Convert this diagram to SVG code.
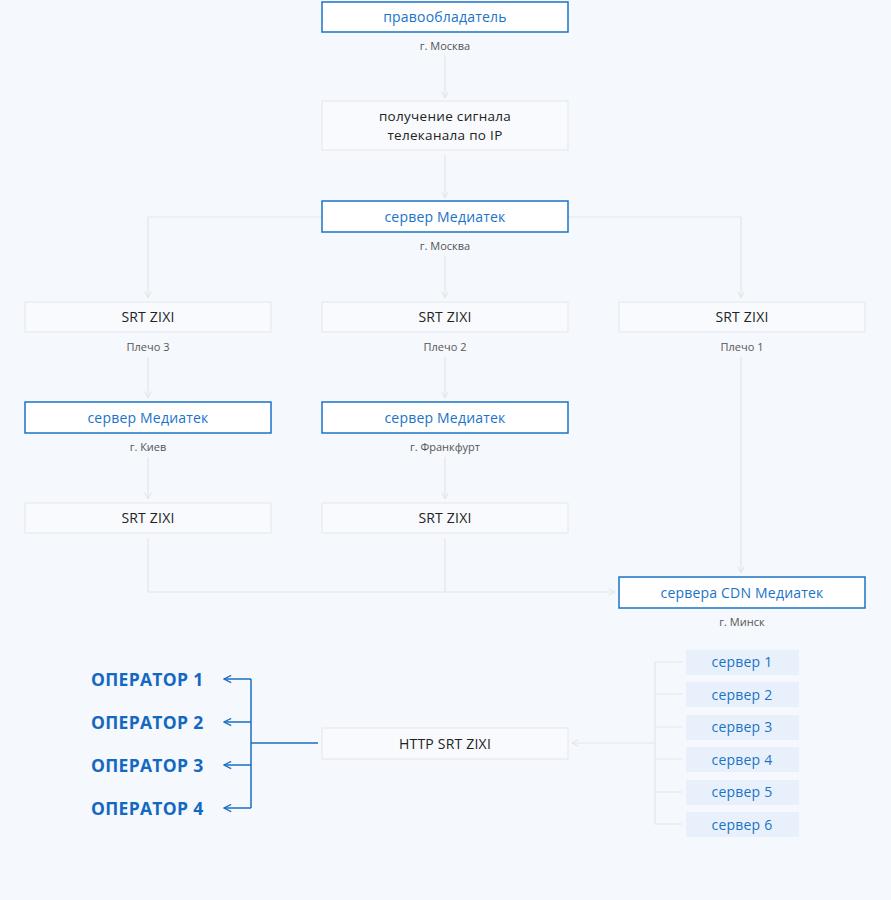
<svg xmlns="http://www.w3.org/2000/svg" width="891" height="900" viewBox="0 0 891 900">
<style>
text{font-family:"Open Sans","Noto Sans","Liberation Sans",sans-serif;text-anchor:middle}
.bx{fill:#f8fafd;stroke:#e4e7ec;stroke-width:1}
.bb{fill:#ffffff;stroke:#1a73c8;stroke-width:1.5}
.tb{fill:#1a73c8;font-size:14px;letter-spacing:0.2px}
.tk{fill:#222;font-size:14px;letter-spacing:0.2px}
.tk2{fill:#222;font-size:13.5px;letter-spacing:0.3px}
.sub{fill:#555;font-size:11px}
.ln{fill:none;stroke:#e4e6ea;stroke-width:1.2}
.bl{fill:none;stroke:#1a6fc4;stroke-width:1.5}
.op{fill:#1468c2;font-size:17.5px;font-weight:bold;letter-spacing:0.3px;text-anchor:start}
.sv{fill:#e8f1fb}
</style>
<defs>
<marker id="ag" viewBox="0 0 10 10" refX="9" refY="5" markerWidth="8" markerHeight="8" markerUnits="userSpaceOnUse" orient="auto"><path d="M1,1 L9,5 L1,9" fill="none" stroke="#dfe2e6" stroke-width="1.2"/></marker>
<marker id="ab" viewBox="0 0 10 10" refX="9" refY="5" markerWidth="9" markerHeight="9" markerUnits="userSpaceOnUse" orient="auto"><path d="M1,1 L9,5 L1,9" fill="none" stroke="#1a6fc4" stroke-width="1.4"/></marker>
</defs>
<rect width="891" height="900" fill="#f5f8fc"/>
<g id="connectors">
<line class="ln" x1="445" y1="55" x2="445" y2="98" marker-end="url(#ag)"/>
<line class="ln" x1="445" y1="155" x2="445" y2="198" marker-end="url(#ag)"/>
<path class="ln" d="M322,217 H148 V298" marker-end="url(#ag)"/>
<path class="ln" d="M568,217 H741 V298" marker-end="url(#ag)"/>
<line class="ln" x1="445" y1="256" x2="445" y2="298" marker-end="url(#ag)"/>
<line class="ln" x1="148" y1="357" x2="148" y2="398" marker-end="url(#ag)"/>
<line class="ln" x1="445" y1="357" x2="445" y2="398" marker-end="url(#ag)"/>
<line class="ln" x1="148" y1="457" x2="148" y2="499" marker-end="url(#ag)"/>
<line class="ln" x1="445" y1="457" x2="445" y2="499" marker-end="url(#ag)"/>
<path class="ln" d="M148,538 V592 H615" marker-end="url(#ag)"/>
<line class="ln" x1="445" y1="538" x2="445" y2="592"/>
<line class="ln" x1="741" y1="357" x2="741" y2="573" marker-end="url(#ag)"/>
<line class="ln" x1="655" y1="743" x2="572" y2="743" marker-end="url(#ag)"/>
<path class="ln" d="M682,662 H655 V824 H682 M655,694 H682 M655,727 H682 M655,759 H682 M655,792 H682"/>
<line class="bl" x1="318" y1="743" x2="251" y2="743"/>
<line class="bl" x1="251" y1="679" x2="251" y2="808"/>
<line class="bl" x1="251" y1="679" x2="224" y2="679" marker-end="url(#ab)"/>
<line class="bl" x1="251" y1="722" x2="224" y2="722" marker-end="url(#ab)"/>
<line class="bl" x1="251" y1="765" x2="224" y2="765" marker-end="url(#ab)"/>
<line class="bl" x1="251" y1="808" x2="224" y2="808" marker-end="url(#ab)"/>
</g>
<g id="n-pravo"><rect class="bb" x="322" y="2" width="246" height="30"/><text class="tb" x="445" y="22">правообладатель</text><text class="sub" x="445" y="50">г. Москва</text></g>
<g id="n-signal"><rect class="bx" x="322" y="101" width="246" height="49"/><text class="tk2" x="445" y="121"><tspan x="445">получение сигнала</tspan><tspan x="445" dy="18.5">телеканала по IP</tspan></text></g>
<g id="n-server-msk"><rect class="bb" x="322" y="201" width="246" height="31"/><text class="tb" x="445" y="221.5">сервер Медиатек</text><text class="sub" x="445" y="250">г. Москва</text></g>
<g id="n-srt3"><rect class="bx" x="25" y="302" width="246" height="30"/><text class="tk" x="148" y="322">SRT ZIXI</text><text class="sub" x="148" y="351">Плечо 3</text></g>
<g id="n-srt2"><rect class="bx" x="322" y="302" width="246" height="30"/><text class="tk" x="445" y="322">SRT ZIXI</text><text class="sub" x="445" y="351">Плечо 2</text></g>
<g id="n-srt1"><rect class="bx" x="619" y="302" width="246" height="30"/><text class="tk" x="742" y="322">SRT ZIXI</text><text class="sub" x="742" y="351">Плечо 1</text></g>
<g id="n-server-kiev"><rect class="bb" x="25" y="402" width="246" height="31"/><text class="tb" x="148" y="422.5">сервер Медиатек</text><text class="sub" x="148" y="451">г. Киев</text></g>
<g id="n-server-frank"><rect class="bb" x="322" y="402" width="246" height="31"/><text class="tb" x="445" y="422.5">сервер Медиатек</text><text class="sub" x="445" y="451">г. Франкфурт</text></g>
<g id="n-srt3b"><rect class="bx" x="25" y="503" width="246" height="30"/><text class="tk" x="148" y="523">SRT ZIXI</text></g>
<g id="n-srt2b"><rect class="bx" x="322" y="503" width="246" height="30"/><text class="tk" x="445" y="523">SRT ZIXI</text></g>
<g id="n-cdn"><rect class="bb" x="619" y="577" width="246" height="31"/><text class="tb" x="742" y="597.5">сервера CDN Медиатек</text><text class="sub" x="742" y="626">г. Минск</text></g>
<g id="n-http"><rect class="bx" x="322" y="728" width="246" height="31"/><text class="tk" x="445" y="748.5">HTTP SRT ZIXI</text></g>
<g id="n-op1"><text class="op" x="91" y="685.5">ОПЕРАТОР 1</text></g>
<g id="n-op2"><text class="op" x="91" y="728.5">ОПЕРАТОР 2</text></g>
<g id="n-op3"><text class="op" x="91" y="771.5">ОПЕРАТОР 3</text></g>
<g id="n-op4"><text class="op" x="91" y="814.5">ОПЕРАТОР 4</text></g>
<g id="n-s1"><rect class="sv" x="686" y="650" width="113" height="25"/><text class="tb" x="742" y="667">сервер 1</text></g>
<g id="n-s2"><rect class="sv" x="686" y="682" width="113" height="25"/><text class="tb" x="742" y="699.5">сервер 2</text></g>
<g id="n-s3"><rect class="sv" x="686" y="715" width="113" height="25"/><text class="tb" x="742" y="732">сервер 3</text></g>
<g id="n-s4"><rect class="sv" x="686" y="747" width="113" height="25"/><text class="tb" x="742" y="764.5">сервер 4</text></g>
<g id="n-s5"><rect class="sv" x="686" y="780" width="113" height="25"/><text class="tb" x="742" y="797">сервер 5</text></g>
<g id="n-s6"><rect class="sv" x="686" y="812" width="113" height="25"/><text class="tb" x="742" y="829.5">сервер 6</text></g>
</svg>
